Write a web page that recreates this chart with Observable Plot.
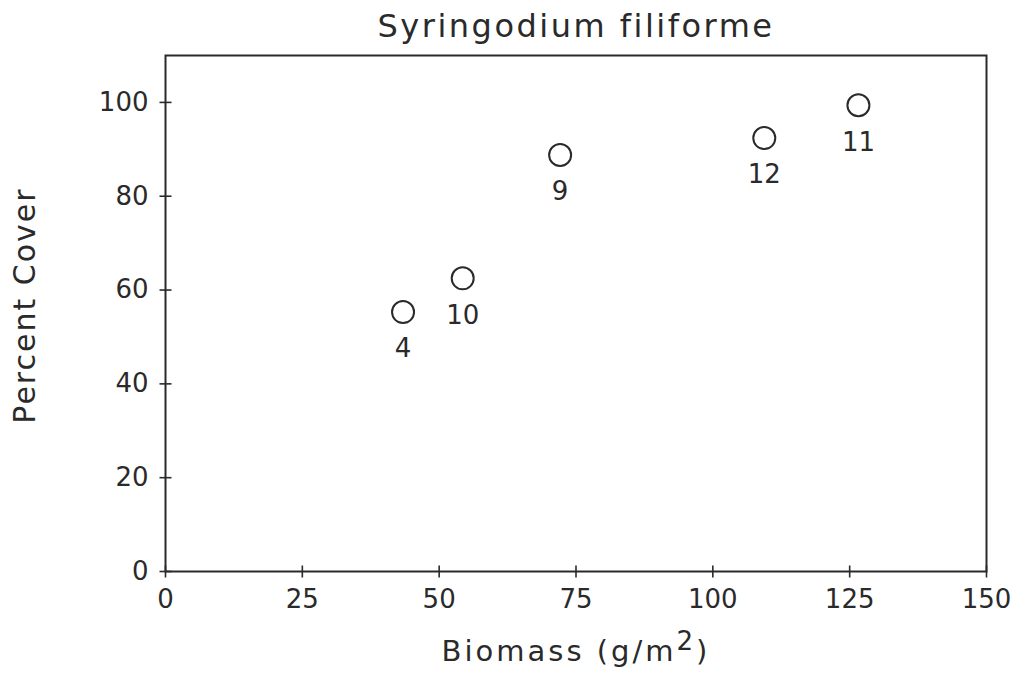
<!DOCTYPE html>
<html>
<head>
<meta charset="utf-8">
<script src="https://cdn.jsdelivr.net/npm/d3@7"></script>
<script src="https://cdn.jsdelivr.net/npm/@observablehq/plot@0.6"></script>
<style>
  html, body { margin: 0; padding: 0; background: #fff; }
  #chart svg { font-family: "DejaVu Sans", sans-serif; }
</style>
</head>
<body>
<div id="chart"></div>
<script>
const title = "Syringodium filiforme";
const xLabelMain = "Biomass (g/m";
const xLabelSup = "2";
const xLabelEnd = ")";
const yLabel = "Percent Cover";
const sites = ["4", "10", "9", "12", "11"];
const biomass = [43.4, 54.3, 72.1, 109.4, 126.6];
const cover = [55.3, 62.5, 88.8, 92.4, 99.4];
const xTicks = [0, 25, 50, 75, 100, 125, 150];
const yTicks = [0, 20, 40, 60, 80, 100];

const data = sites.map((s, i) => ({site: s, x: biomass[i], y: cover[i]}));
const ink = "#2a2a2a";

// tick glyphs that cross the axis line (half-length 6px)
const vTick = {draw(ctx) { ctx.moveTo(0, -6); ctx.lineTo(0, 6); }};
const hTick = {draw(ctx) { ctx.moveTo(-6, 0); ctx.lineTo(6, 0); }};

const chart = Plot.plot({
  width: 1014,
  height: 676,
  marginLeft: 165,
  marginRight: 28,
  marginTop: 55,
  marginBottom: 105,
  style: {background: "#fff", color: ink, fontFamily: "DejaVu Sans, sans-serif"},
  x: {domain: [0, 150]},
  y: {domain: [0, 110]},
  marks: [
    Plot.frame({stroke: ink, strokeWidth: 2}),
    Plot.axisX({ticks: xTicks, tickSize: 0, tickPadding: 18, fontSize: 26, label: null, tickFormat: d => String(d)}),
    Plot.axisY({ticks: yTicks, tickSize: 0, tickPadding: 17, fontSize: 26, label: null, tickFormat: d => String(d)}),
    Plot.dot(xTicks, {x: d => d, y: () => 0, symbol: vTick, r: 6, stroke: ink, strokeWidth: 1.6, fill: "none", clip: false}),
    Plot.dot(yTicks, {x: () => 0, y: d => d, symbol: hTick, r: 6, stroke: ink, strokeWidth: 1.6, fill: "none", clip: false}),
    Plot.dot(data, {x: "x", y: "y", r: 11, stroke: ink, strokeWidth: 2, fill: "none"}),
    Plot.text(data, {x: "x", y: "y", text: "site", dy: 37, fontSize: 26, fill: ink}),
    Plot.text([title], {text: d => d, frameAnchor: "top", dy: -29, fontSize: 32, fill: ink, lineAnchor: "middle", textAnchor: "middle"}),
    Plot.text([xLabelMain + xLabelSup + xLabelEnd], {text: d => d, frameAnchor: "bottom", dy: 80, fontSize: 29, fill: ink, lineAnchor: "middle", textAnchor: "middle"}),
    Plot.text([yLabel], {text: d => d, frameAnchor: "left", dx: -140, dy: -8, rotate: -90, fontSize: 30, fill: ink, lineAnchor: "middle", textAnchor: "middle"})
  ]
});
document.getElementById("chart").appendChild(chart);

// typographic touches: letter spacing and a raised superscript
d3.select(chart).selectAll("text").each(function() {
  const t = this.textContent;
  if (t === title) this.setAttribute("letter-spacing", "2.5");
  if (t === yLabel) this.setAttribute("letter-spacing", "2");
  if (t === xLabelMain + xLabelSup + xLabelEnd) {
    const el = d3.select(this);
    el.attr("letter-spacing", "3");
    el.text(null);
    el.append("tspan").text(xLabelMain);
    el.append("tspan").attr("dy", "-0.4em").attr("font-size", "0.9em").text(xLabelSup);
    el.append("tspan").attr("dy", "0.36em").text(xLabelEnd);
  }
});
</script>
</body>
</html>
